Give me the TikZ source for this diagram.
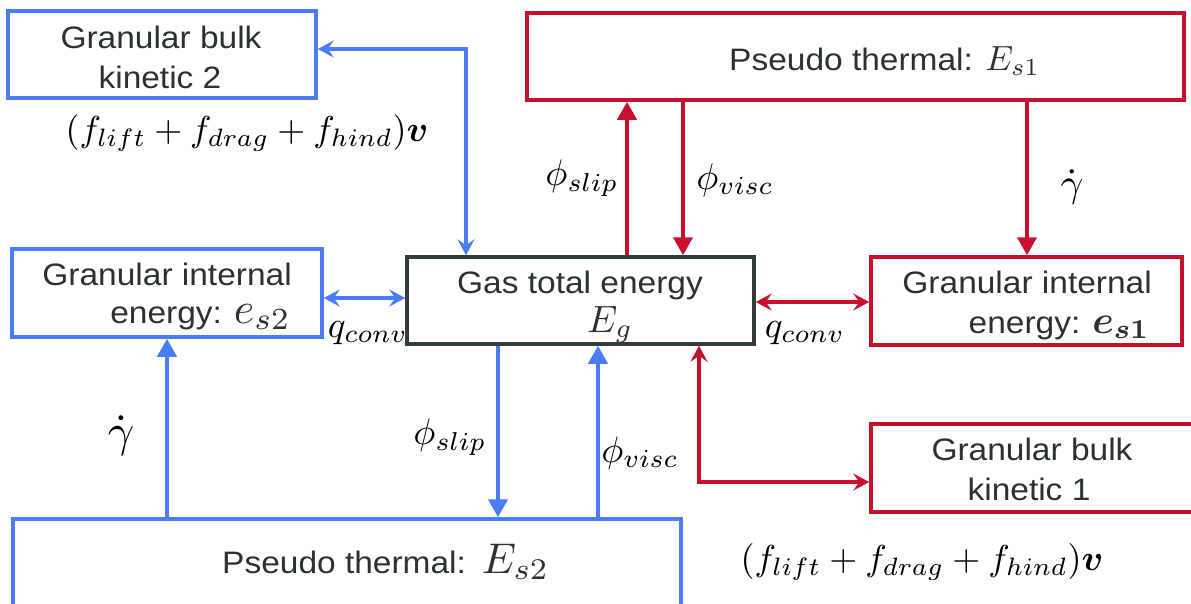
\documentclass[tikz,border=0pt]{standalone}
\usepackage{graphicx}
\usepackage{amsmath,amsbsy}
\usepackage{fontspec}
\setmainfont{Liberation Sans}[FakeStretch=1.08]
\usetikzlibrary{arrows.meta}
\definecolor{bl}{HTML}{4A7CF6}
\definecolor{rd}{HTML}{C8102E}
\definecolor{ink}{HTML}{2B3133}
\definecolor{gasline}{HTML}{333B3D}
\newcommand{\mysm}[2]{\scalebox{#1}{\normalsize$#2$}}
\begin{document}
\begin{tikzpicture}[x=1pt,y=-1pt,
  boxb/.style={draw=bl,line width=3.5pt,inner sep=0pt},
  boxr/.style={draw=rd,line width=3.5pt,inner sep=0pt},
  boxk/.style={draw=gasline,line width=3.5pt,inner sep=0pt},
  txt/.style={text=ink,font=\fontsize{31}{40}\selectfont,inner sep=0pt},
  mlbl/.style={text=black,inner sep=0pt},
  conn/.style={line width=4pt},
  both/.style={{Stealth[length=16pt,width=17pt,inset=6pt]}-{Stealth[length=16pt,width=17pt,inset=6pt]}},
  tri/.style={-{Triangle[length=18pt,width=19pt]}}]
\clip (0,0) rectangle (1191,603);
% boxes
\node[boxb,minimum width=308pt,minimum height=87pt] (gbk2) at (162,54.5) {};
\node[boxb,minimum width=310pt,minimum height=88pt] (gie2) at (167,293) {};
\node[boxk,minimum width=347pt,minimum height=87pt] (gas) at (580.5,300.5) {};
\node[boxr,minimum width=657pt,minimum height=87pt] (pt1) at (855.5,56.5) {};
\node[boxr,minimum width=311pt,minimum height=88pt] (gie1) at (1026.5,301) {};
\node[boxr,minimum width=324pt,minimum height=88pt] (gbk1) at (1033,468) {};
\node[boxb,minimum width=668pt,minimum height=101pt] (pt2) at (347,569.5) {};
% box texts
\node[txt,anchor=base] (t1) at (161,48) {Granular bulk};
\node[txt,anchor=base] (t2) at (160,88) {kinetic 2};
\node[txt,anchor=base east] (t3) at (292,285) {Granular internal};
\node[txt,anchor=base east] (t4) at (291,323) {energy:\hspace{12pt}\mysm{4.4}{e_{s2}}};
\node[txt,anchor=base] (t5) at (580,293) {Gas total energy};
\node[txt,anchor=base west] (t6) at (587,332) {\mysm{3.8}{E_g}};
\node[txt,anchor=base west] (t7) at (729,70) {Pseudo thermal: \mysm{3.5}{E_{s1}}};
\node[txt,anchor=base east] (t8) at (1152,293) {Granular internal};
\node[txt,anchor=base east] (t9) at (1150,333) {energy:\hspace{12pt}\mysm{3.9}{\boldsymbol{e_{s1}}}};
\node[txt,anchor=base] (t10) at (1032,460) {Granular bulk};
\node[txt,anchor=base] (t11) at (1029,500) {kinetic 1};
\node[txt,anchor=base west] (t12) at (222,573) {Pseudo thermal:\hspace{16pt}\mysm{4.3}{E_{s2}}};
% connectors
\draw[conn,bl,both] (gbk2.east |- 0,49) -| (gas.north -| 466,0);
\draw[conn,bl,both] (gie2.east |- 0,298) -- (gas.west |- 0,298);
\draw[conn,bl,tri] (pt2.north -| 167,0) -- (gie2.south -| 167,0);
\draw[conn,bl,tri] (gas.south -| 498,0) -- (pt2.north -| 498,0);
\draw[conn,bl,tri] (pt2.north -| 598,0) -- (gas.south -| 598,0);
\draw[conn,rd,tri] (gas.north -| 627,0) -- (pt1.south -| 627,0);
\draw[conn,rd,tri] (pt1.south -| 683,0) -- (gas.north -| 683,0);
\draw[conn,rd,tri] (pt1.south -| 1027,0) -- (gie1.north -| 1027,0);
\draw[conn,rd,both] (gas.east |- 0,302) -- (gie1.west |- 0,302);
\draw[conn,rd,both] (gas.south -| 699,0) |- (gbk1.west |- 0,482);
% labels
\node[mlbl] (fT) at (247,133) {\mysm{3.6}{(f_{lift}+f_{drag}+f_{hind})\boldsymbol{v}}};
\node[mlbl] (fB) at (922,562) {\mysm{3.6}{(f_{lift}+f_{drag}+f_{hind})\boldsymbol{v}}};
\node[mlbl] (qL) at (368,333) {\mysm{3.7}{q_{conv}}};
\node[mlbl] (qR) at (805,333) {\mysm{3.7}{q_{conv}}};
\node[mlbl] (psR) at (582,178) {\mysm{3.7}{\phi_{slip}}};
\node[mlbl] (pvR) at (735,180) {\mysm{3.7}{\phi_{visc}}};
\node[mlbl] (gR) at (1072,187) {\mysm{4}{\dot{\gamma}}};
\node[mlbl] (gB) at (121,436) {\mysm{4.6}{\dot{\gamma}}};
\node[mlbl] (psB) at (450,437) {\mysm{3.7}{\phi_{slip}}};
\node[mlbl] (pvB) at (640,453) {\mysm{3.7}{\phi_{visc}}};
\end{tikzpicture}
\end{document}
